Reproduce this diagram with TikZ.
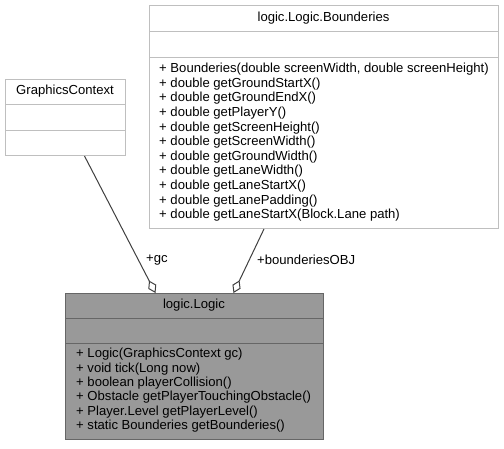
\documentclass[tikz,border=0pt]{standalone}
\usepackage{fontspec}
\setmainfont{Liberation Sans}
\usetikzlibrary{arrows.meta,positioning}
\definecolor{boxline}{HTML}{BFBFBF}
\definecolor{focusfill}{HTML}{999999}
\definecolor{focusline}{HTML}{666666}
\definecolor{edgeline}{HTML}{404040}
\tikzset{
  umlfont/.style={font=\fontsize{13.1}{14.6}\selectfont},
  classbox/.style={draw=boxline, fill=white, line width=1pt, anchor=north west, inner sep=0pt},
  focusbox/.style={classbox, draw=focusline, fill=focusfill},
  classname/.style={umlfont, inner sep=0pt},
  member/.style={umlfont, anchor=base west, inner sep=0pt},
  role/.style={umlfont, anchor=west, inner sep=0pt},
  aggr/.style={draw=edgeline, line width=1pt, -{Diamond[open,length=14pt,width=9pt]}}
}
\begin{document}
\begin{tikzpicture}[x=1pt,y=-1pt]
\path[fill=white] (0,0) rectangle (504,448);
% GraphicsContext
\node[classbox, minimum width=120pt, minimum height=76pt] (gfx) at (5,79) {};
\node[classname] (gfx name) at (65,91.5) {GraphicsContext};
\draw[boxline, line width=1pt] ([yshift=-25pt]gfx.north west) -- ([yshift=-25pt]gfx.north east);
\draw[boxline, line width=1pt] ([yshift=-51pt]gfx.north west) -- ([yshift=-51pt]gfx.north east);
% logic.Logic.Bounderies
\node[classbox, minimum width=349pt, minimum height=223pt] (bounds) at (149,5) {};
\node[classname] (bounds name) at (323.5,18) {logic.Logic.Bounderies};
\draw[boxline, line width=1pt] ([yshift=-26pt]bounds.north west) -- ([yshift=-26pt]bounds.north east);
\draw[boxline, line width=1pt] ([yshift=-52pt]bounds.north west) -- ([yshift=-52pt]bounds.north east);
\foreach \t [count=\i] in {{+ Bounderies(double screenWidth, double screenHeight)},
  + double getGroundStartX(), + double getGroundEndX(), + double getPlayerY(),
  + double getScreenHeight(), + double getScreenWidth(), + double getGroundWidth(),
  + double getLaneWidth(), + double getLaneStartX(), + double getLanePadding(),
  + double getLaneStartX(Block.Lane path)}
\node[member] (bounds op\i) at (159,{72.7+14.6*(\i-1)}) {\t};
% logic.Logic
\node[focusbox, minimum width=258pt, minimum height=146pt] (logic) at (65,293) {};
\node[classname] (logic name) at (194,305.5) {logic.Logic};
\draw[focusline, line width=1pt] ([yshift=-25pt]logic.north west) -- ([yshift=-25pt]logic.north east);
\draw[focusline, line width=1pt] ([yshift=-50pt]logic.north west) -- ([yshift=-50pt]logic.north east);
\foreach \t [count=\i] in {+ Logic(GraphicsContext gc), + void tick(Long now),
  + boolean playerCollision(), + Obstacle getPlayerTouchingObstacle(),
  + Player.Level getPlayerLevel(), + static Bounderies getBounderies()}
\node[member] (logic op\i) at (76,{357.7+14.4*(\i-1)}) {\t};
% aggregations
\draw[aggr] ([xshift=19pt]gfx.south) -- ([xshift=-39pt]logic.north);
\draw[aggr] ([xshift=-60pt]bounds.south) -- ([xshift=39pt]logic.north);
\node[role] (gc role) at (146,260) {+gc};
\node[role] (bounds role) at (257,260) {+bounderiesOBJ};
\end{tikzpicture}
\end{document}
